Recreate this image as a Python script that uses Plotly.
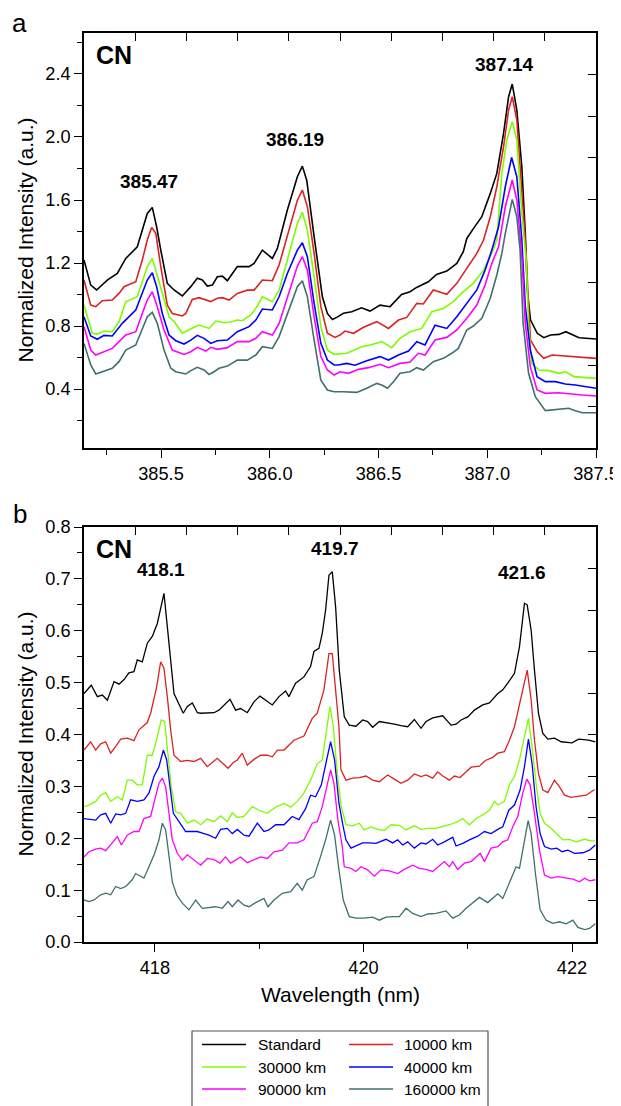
import plotly.graph_objects as go

# The page body adds an 8px margin, so the figure is sized and placed to line up with the
# 621x1106 viewport: reference pixel (X, Y) -> figure pixel (X-8, Y-8).
OFF = 8
W, H = 621 - OFF, 1106 - OFF
def px(x):
    return (x - OFF) / W
def py(y):
    return 1 - (y - OFF) / H

FONT = "Liberation Sans, Arial, Helvetica, sans-serif"

series_names = ["Standard", "10000 km", "30000 km", "40000 km", "90000 km", "160000 km"]
series_colors = ["#000000", "#dd2222", "#7cfc00", "#0000ff", "#ff00ff", "#3f6f6f"]

# ---------------- Panel a (385-387.5 nm) ----------------
std_a_x = [385.146, 385.177, 385.204, 385.253, 385.299, 385.338, 385.391, 385.437, 385.460, 385.480, 385.499, 385.529, 385.560, 385.598, 385.637, 385.667, 385.690, 385.713, 385.736, 385.759, 385.782, 385.805, 385.851, 385.905, 385.928, 385.966, 386.012, 386.035, 386.081, 386.127, 386.150, 386.170, 386.204, 386.242, 386.265, 386.288, 386.308, 386.339, 386.377, 386.422, 386.461, 386.507, 386.553, 386.606, 386.645, 386.675, 386.729, 386.767, 386.814, 386.860, 386.890, 386.906, 386.937, 386.975, 387.014, 387.044, 387.075, 387.098, 387.115, 387.136, 387.159, 387.175, 387.184, 387.199, 387.230, 387.260, 387.291, 387.330, 387.361, 387.422, 387.500]
std_a_y = [1.219, 1.060, 1.029, 1.092, 1.134, 1.229, 1.303, 1.515, 1.553, 1.430, 1.282, 1.071, 1.029, 0.991, 1.050, 1.103, 1.092, 1.054, 1.060, 1.113, 1.117, 1.088, 1.177, 1.177, 1.198, 1.282, 1.229, 1.293, 1.536, 1.748, 1.815, 1.726, 1.367, 0.986, 0.880, 0.842, 0.855, 0.881, 0.891, 0.916, 0.895, 0.933, 0.923, 1.001, 1.018, 1.045, 1.081, 1.128, 1.149, 1.198, 1.272, 1.356, 1.420, 1.494, 1.642, 1.769, 2.023, 2.255, 2.336, 2.171, 1.811, 1.388, 1.029, 0.838, 0.754, 0.726, 0.743, 0.747, 0.764, 0.726, 0.718]

k10_a_x = [385.146, 385.177, 385.200, 385.230, 385.276, 385.307, 385.330, 385.384, 385.414, 385.437, 385.457, 385.476, 385.499, 385.529, 385.552, 385.598, 385.614, 385.644, 385.675, 385.729, 385.759, 385.782, 385.813, 385.851, 385.897, 385.928, 385.966, 386.012, 386.043, 386.081, 386.127, 386.150, 386.173, 386.204, 386.235, 386.265, 386.300, 386.323, 386.346, 386.385, 386.431, 386.492, 386.546, 386.592, 386.630, 386.676, 386.706, 386.752, 386.814, 386.860, 386.906, 386.952, 386.983, 387.014, 387.044, 387.075, 387.098, 387.115, 387.136, 387.159, 387.179, 387.190, 387.199, 387.230, 387.260, 387.298, 387.344, 387.390, 387.422, 387.500]
k10_a_y = [1.092, 0.933, 0.923, 0.961, 0.965, 1.007, 1.050, 1.081, 1.219, 1.346, 1.426, 1.388, 1.177, 0.933, 0.880, 0.864, 0.880, 0.969, 0.980, 0.955, 0.976, 0.980, 0.965, 1.007, 1.028, 1.028, 1.092, 1.088, 1.187, 1.367, 1.599, 1.663, 1.557, 1.261, 0.923, 0.754, 0.728, 0.743, 0.768, 0.754, 0.792, 0.828, 0.785, 0.838, 0.855, 0.944, 0.940, 1.029, 1.001, 1.071, 1.166, 1.261, 1.346, 1.494, 1.684, 1.938, 2.171, 2.255, 2.107, 1.684, 1.261, 0.923, 0.711, 0.637, 0.595, 0.616, 0.612, 0.606, 0.601, 0.595]

k30_a_x = [385.146, 385.184, 385.207, 385.238, 385.276, 385.307, 385.338, 385.391, 385.437, 385.460, 385.480, 385.506, 385.537, 385.560, 385.598, 385.652, 385.675, 385.721, 385.752, 385.790, 385.821, 385.851, 385.874, 385.913, 385.936, 385.966, 386.012, 386.043, 386.081, 386.127, 386.150, 386.173, 386.204, 386.235, 386.265, 386.296, 386.354, 386.423, 386.461, 386.515, 386.561, 386.599, 386.645, 386.699, 386.745, 386.798, 386.844, 386.890, 386.936, 386.983, 387.021, 387.044, 387.067, 387.090, 387.115, 387.136, 387.159, 387.179, 387.190, 387.204, 387.238, 387.284, 387.330, 387.361, 387.399, 387.500]
k30_a_y = [0.933, 0.754, 0.749, 0.768, 0.764, 0.827, 0.954, 0.986, 1.176, 1.229, 1.134, 1.007, 0.859, 0.828, 0.754, 0.792, 0.806, 0.785, 0.832, 0.821, 0.826, 0.838, 0.834, 0.870, 0.912, 0.986, 0.954, 1.028, 1.219, 1.452, 1.522, 1.409, 1.113, 0.796, 0.648, 0.620, 0.627, 0.669, 0.680, 0.701, 0.663, 0.722, 0.764, 0.785, 0.891, 0.912, 0.955, 1.018, 1.071, 1.155, 1.261, 1.346, 1.769, 1.981, 2.097, 1.981, 1.515, 1.219, 0.817, 0.563, 0.521, 0.517, 0.500, 0.510, 0.479, 0.468]

k40_a_x = [385.146, 385.177, 385.207, 385.238, 385.276, 385.322, 385.384, 385.414, 385.437, 385.460, 385.480, 385.506, 385.537, 385.568, 385.606, 385.637, 385.667, 385.698, 385.729, 385.759, 385.805, 385.851, 385.905, 385.936, 385.966, 386.012, 386.043, 386.081, 386.127, 386.150, 386.173, 386.204, 386.235, 386.265, 386.296, 386.315, 386.354, 386.392, 386.446, 386.507, 386.546, 386.592, 386.638, 386.676, 386.714, 386.760, 386.814, 386.860, 386.906, 386.952, 386.990, 387.021, 387.052, 387.083, 387.112, 387.136, 387.159, 387.175, 387.198, 387.229, 387.267, 387.313, 387.359, 387.405, 387.500]
k40_a_y = [0.859, 0.737, 0.716, 0.741, 0.737, 0.817, 0.902, 1.007, 1.092, 1.138, 1.050, 0.880, 0.743, 0.707, 0.686, 0.711, 0.741, 0.722, 0.690, 0.707, 0.711, 0.764, 0.796, 0.838, 0.908, 0.902, 0.986, 1.134, 1.282, 1.329, 1.240, 0.944, 0.690, 0.584, 0.553, 0.553, 0.563, 0.551, 0.580, 0.606, 0.584, 0.616, 0.641, 0.701, 0.680, 0.806, 0.785, 0.859, 0.944, 1.029, 1.155, 1.282, 1.430, 1.684, 1.870, 1.748, 1.346, 0.923, 0.648, 0.479, 0.447, 0.447, 0.432, 0.426, 0.405]

k90_a_x = [385.146, 385.177, 385.200, 385.230, 385.276, 385.338, 385.384, 385.414, 385.437, 385.460, 385.483, 385.514, 385.552, 385.606, 385.637, 385.667, 385.706, 385.729, 385.759, 385.805, 385.851, 385.905, 385.936, 385.966, 386.012, 386.043, 386.081, 386.127, 386.150, 386.173, 386.204, 386.235, 386.265, 386.296, 386.323, 386.362, 386.408, 386.454, 386.507, 386.546, 386.599, 386.645, 386.683, 386.714, 386.760, 386.814, 386.860, 386.906, 386.952, 386.990, 387.021, 387.052, 387.083, 387.115, 387.136, 387.159, 387.175, 387.198, 387.229, 387.267, 387.328, 387.374, 387.436, 387.500]
k90_a_y = [0.796, 0.648, 0.616, 0.633, 0.658, 0.743, 0.764, 0.880, 0.965, 1.018, 0.923, 0.775, 0.648, 0.620, 0.637, 0.665, 0.641, 0.665, 0.652, 0.663, 0.701, 0.701, 0.722, 0.764, 0.743, 0.817, 0.986, 1.181, 1.240, 1.155, 0.859, 0.606, 0.521, 0.489, 0.510, 0.500, 0.525, 0.536, 0.557, 0.536, 0.563, 0.572, 0.627, 0.616, 0.711, 0.728, 0.775, 0.849, 0.933, 1.060, 1.198, 1.303, 1.557, 1.727, 1.600, 1.240, 0.817, 0.542, 0.394, 0.373, 0.377, 0.369, 0.362, 0.356]

k160_a_x = [385.146, 385.177, 385.200, 385.238, 385.276, 385.307, 385.338, 385.384, 385.414, 385.437, 385.460, 385.483, 385.514, 385.545, 385.568, 385.614, 385.637, 385.667, 385.698, 385.721, 385.744, 385.767, 385.805, 385.851, 385.897, 385.936, 385.966, 386.012, 386.043, 386.081, 386.127, 386.150, 386.173, 386.204, 386.235, 386.265, 386.296, 386.339, 386.400, 386.446, 386.492, 386.515, 386.541, 386.569, 386.599, 386.645, 386.676, 386.706, 386.752, 386.798, 386.837, 386.867, 386.906, 386.936, 386.975, 387.014, 387.044, 387.067, 387.083, 387.115, 387.136, 387.151, 387.165, 387.190, 387.221, 387.267, 387.328, 387.374, 387.405, 387.436, 387.500]
k160_a_y = [0.690, 0.553, 0.496, 0.515, 0.532, 0.574, 0.648, 0.680, 0.775, 0.859, 0.887, 0.817, 0.648, 0.532, 0.510, 0.496, 0.517, 0.538, 0.521, 0.493, 0.510, 0.532, 0.546, 0.584, 0.584, 0.616, 0.669, 0.658, 0.733, 0.881, 1.050, 1.088, 0.986, 0.711, 0.457, 0.394, 0.383, 0.383, 0.379, 0.405, 0.436, 0.426, 0.405, 0.447, 0.500, 0.510, 0.536, 0.521, 0.574, 0.595, 0.627, 0.658, 0.775, 0.800, 0.849, 0.976, 1.124, 1.261, 1.388, 1.604, 1.494, 1.282, 0.817, 0.500, 0.352, 0.263, 0.271, 0.278, 0.263, 0.250, 0.250]

# ---------------- Panel b (417-422 nm) ----------------
std_b_x = [417.320, 417.390, 417.448, 417.496, 417.544, 417.608, 417.656, 417.704, 417.751, 417.799, 417.831, 417.879, 417.927, 417.975, 418.023, 418.055, 418.087, 418.119, 418.151, 418.183, 418.272, 418.311, 418.359, 418.407, 418.439, 418.502, 418.566, 418.614, 418.662, 418.720, 418.774, 418.822, 418.886, 418.950, 419.007, 419.062, 419.126, 419.190, 419.253, 419.285, 419.349, 419.429, 419.493, 419.525, 419.573, 419.605, 419.637, 419.669, 419.701, 419.733, 419.768, 419.816, 419.864, 419.928, 419.992, 420.040, 420.088, 420.152, 420.216, 420.296, 420.360, 420.424, 420.488, 420.552, 420.600, 420.664, 420.760, 420.840, 420.888, 420.936, 421.000, 421.064, 421.144, 421.208, 421.288, 421.336, 421.384, 421.448, 421.496, 421.544, 421.570, 421.608, 421.640, 421.678, 421.720, 421.768, 421.832, 421.896, 422.000, 422.063, 422.159, 422.223]
std_b_y = [0.479, 0.495, 0.473, 0.476, 0.466, 0.502, 0.497, 0.506, 0.519, 0.521, 0.544, 0.540, 0.576, 0.589, 0.614, 0.640, 0.672, 0.608, 0.544, 0.479, 0.441, 0.454, 0.461, 0.442, 0.441, 0.442, 0.442, 0.447, 0.457, 0.468, 0.447, 0.450, 0.442, 0.463, 0.474, 0.466, 0.457, 0.473, 0.484, 0.473, 0.499, 0.511, 0.531, 0.560, 0.566, 0.595, 0.640, 0.707, 0.714, 0.646, 0.524, 0.434, 0.418, 0.416, 0.428, 0.425, 0.414, 0.425, 0.423, 0.420, 0.417, 0.415, 0.429, 0.412, 0.425, 0.432, 0.436, 0.418, 0.420, 0.428, 0.434, 0.447, 0.457, 0.461, 0.479, 0.486, 0.499, 0.518, 0.569, 0.653, 0.650, 0.601, 0.524, 0.441, 0.402, 0.391, 0.393, 0.386, 0.384, 0.391, 0.389, 0.386]

k10_b_x = [417.320, 417.384, 417.432, 417.480, 417.528, 417.576, 417.624, 417.672, 417.735, 417.799, 417.847, 417.927, 417.959, 418.017, 418.055, 418.087, 418.119, 418.151, 418.183, 418.247, 418.311, 418.375, 418.439, 418.502, 418.598, 418.701, 418.752, 418.790, 418.838, 418.886, 418.950, 419.014, 419.078, 419.126, 419.174, 419.238, 419.333, 419.429, 419.509, 419.557, 419.621, 419.669, 419.701, 419.733, 419.765, 419.784, 419.832, 419.896, 419.960, 420.024, 420.088, 420.152, 420.232, 420.296, 420.360, 420.424, 420.488, 420.552, 420.600, 420.664, 420.712, 420.760, 420.824, 420.872, 420.926, 420.968, 421.032, 421.112, 421.169, 421.240, 421.288, 421.352, 421.400, 421.448, 421.496, 421.544, 421.570, 421.608, 421.640, 421.678, 421.720, 421.768, 421.832, 421.880, 421.928, 421.992, 422.056, 422.136, 422.216]
k10_b_y = [0.370, 0.386, 0.370, 0.382, 0.386, 0.364, 0.377, 0.391, 0.393, 0.388, 0.409, 0.423, 0.441, 0.492, 0.540, 0.528, 0.473, 0.409, 0.360, 0.348, 0.350, 0.348, 0.354, 0.338, 0.354, 0.335, 0.346, 0.351, 0.364, 0.341, 0.352, 0.360, 0.360, 0.357, 0.370, 0.370, 0.389, 0.397, 0.431, 0.441, 0.486, 0.556, 0.556, 0.492, 0.415, 0.332, 0.312, 0.316, 0.317, 0.320, 0.312, 0.309, 0.322, 0.314, 0.306, 0.312, 0.324, 0.319, 0.322, 0.316, 0.328, 0.320, 0.312, 0.320, 0.317, 0.325, 0.337, 0.339, 0.350, 0.356, 0.364, 0.367, 0.389, 0.415, 0.460, 0.505, 0.524, 0.467, 0.389, 0.325, 0.293, 0.288, 0.312, 0.299, 0.283, 0.279, 0.281, 0.283, 0.294]

k30_b_x = [417.320, 417.368, 417.432, 417.480, 417.528, 417.576, 417.640, 417.688, 417.735, 417.783, 417.831, 417.879, 417.927, 417.975, 418.023, 418.061, 418.093, 418.125, 418.157, 418.199, 418.247, 418.311, 418.375, 418.439, 418.502, 418.566, 418.630, 418.694, 418.742, 418.790, 418.854, 418.934, 418.998, 419.078, 419.158, 419.238, 419.302, 419.365, 419.429, 419.509, 419.557, 419.605, 419.647, 419.679, 419.711, 419.749, 419.787, 419.832, 419.896, 419.960, 420.008, 420.072, 420.136, 420.200, 420.264, 420.344, 420.408, 420.488, 420.552, 420.616, 420.696, 420.760, 420.840, 420.904, 420.952, 421.016, 421.080, 421.144, 421.208, 421.256, 421.288, 421.352, 421.400, 421.448, 421.496, 421.544, 421.582, 421.617, 421.655, 421.694, 421.736, 421.784, 421.848, 421.912, 421.976, 422.040, 422.120, 422.184, 422.223]
k30_b_y = [0.261, 0.264, 0.271, 0.283, 0.288, 0.271, 0.280, 0.274, 0.312, 0.312, 0.303, 0.303, 0.360, 0.360, 0.396, 0.428, 0.425, 0.364, 0.299, 0.251, 0.248, 0.229, 0.235, 0.226, 0.237, 0.232, 0.243, 0.232, 0.249, 0.240, 0.242, 0.261, 0.254, 0.248, 0.260, 0.267, 0.260, 0.271, 0.287, 0.319, 0.344, 0.351, 0.415, 0.454, 0.415, 0.325, 0.261, 0.226, 0.224, 0.229, 0.216, 0.222, 0.217, 0.215, 0.226, 0.225, 0.216, 0.224, 0.217, 0.219, 0.219, 0.222, 0.227, 0.232, 0.238, 0.226, 0.238, 0.245, 0.254, 0.271, 0.264, 0.271, 0.303, 0.319, 0.351, 0.396, 0.431, 0.377, 0.306, 0.248, 0.229, 0.222, 0.209, 0.197, 0.198, 0.193, 0.198, 0.195, 0.195]

k40_b_x = [417.320, 417.384, 417.432, 417.480, 417.528, 417.576, 417.624, 417.672, 417.720, 417.767, 417.831, 417.895, 417.943, 417.991, 418.039, 418.081, 418.113, 418.145, 418.177, 418.231, 418.295, 418.343, 418.407, 418.471, 418.518, 418.582, 418.630, 418.694, 418.742, 418.790, 418.854, 418.902, 418.982, 419.046, 419.094, 419.158, 419.238, 419.317, 419.381, 419.445, 419.493, 419.541, 419.596, 419.647, 419.685, 419.723, 419.765, 419.806, 419.832, 419.880, 419.944, 419.992, 420.056, 420.120, 420.216, 420.280, 420.328, 420.376, 420.424, 420.488, 420.552, 420.600, 420.664, 420.712, 420.776, 420.856, 420.888, 420.952, 421.016, 421.096, 421.160, 421.224, 421.288, 421.336, 421.394, 421.448, 421.502, 421.544, 421.582, 421.617, 421.655, 421.694, 421.736, 421.800, 421.854, 421.905, 421.960, 422.024, 422.104, 422.168, 422.223]
k40_b_y = [0.238, 0.236, 0.235, 0.245, 0.248, 0.229, 0.247, 0.245, 0.248, 0.274, 0.271, 0.274, 0.287, 0.319, 0.338, 0.370, 0.351, 0.299, 0.248, 0.232, 0.213, 0.213, 0.213, 0.209, 0.206, 0.200, 0.217, 0.219, 0.209, 0.217, 0.206, 0.204, 0.229, 0.213, 0.216, 0.226, 0.226, 0.242, 0.236, 0.257, 0.283, 0.280, 0.303, 0.351, 0.386, 0.351, 0.267, 0.222, 0.197, 0.181, 0.187, 0.191, 0.191, 0.190, 0.198, 0.191, 0.197, 0.187, 0.193, 0.181, 0.191, 0.189, 0.198, 0.187, 0.193, 0.202, 0.185, 0.190, 0.197, 0.204, 0.213, 0.209, 0.217, 0.222, 0.254, 0.264, 0.293, 0.338, 0.391, 0.344, 0.261, 0.209, 0.184, 0.179, 0.181, 0.174, 0.177, 0.171, 0.172, 0.177, 0.187]

k90_b_x = [417.320, 417.368, 417.432, 417.480, 417.528, 417.576, 417.640, 417.678, 417.735, 417.799, 417.847, 417.895, 417.959, 417.998, 418.039, 418.071, 418.103, 418.135, 418.167, 418.215, 418.263, 418.311, 418.375, 418.439, 418.502, 418.566, 418.624, 418.678, 418.726, 418.774, 418.822, 418.886, 418.950, 419.014, 419.078, 419.142, 419.222, 419.286, 419.365, 419.429, 419.509, 419.557, 419.605, 419.647, 419.685, 419.717, 419.755, 419.797, 419.816, 419.880, 419.928, 419.976, 420.040, 420.104, 420.168, 420.248, 420.328, 420.392, 420.472, 420.536, 420.600, 420.664, 420.728, 420.776, 420.824, 420.856, 420.904, 420.968, 421.032, 421.080, 421.119, 421.160, 421.224, 421.288, 421.336, 421.384, 421.432, 421.480, 421.528, 421.566, 421.598, 421.640, 421.688, 421.736, 421.800, 421.864, 421.944, 422.008, 422.072, 422.120, 422.168, 422.223]
k90_b_y = [0.164, 0.174, 0.179, 0.181, 0.176, 0.187, 0.203, 0.187, 0.206, 0.213, 0.213, 0.238, 0.242, 0.274, 0.306, 0.316, 0.299, 0.248, 0.197, 0.171, 0.158, 0.168, 0.158, 0.148, 0.161, 0.159, 0.152, 0.164, 0.152, 0.158, 0.164, 0.153, 0.159, 0.164, 0.161, 0.174, 0.177, 0.191, 0.191, 0.197, 0.229, 0.232, 0.261, 0.299, 0.332, 0.306, 0.235, 0.184, 0.145, 0.142, 0.136, 0.145, 0.139, 0.127, 0.139, 0.137, 0.132, 0.140, 0.148, 0.142, 0.140, 0.136, 0.148, 0.155, 0.145, 0.155, 0.140, 0.152, 0.155, 0.164, 0.171, 0.155, 0.181, 0.184, 0.193, 0.197, 0.222, 0.242, 0.287, 0.314, 0.303, 0.248, 0.177, 0.129, 0.123, 0.126, 0.123, 0.121, 0.116, 0.123, 0.118, 0.120]

k160_b_x = [417.320, 417.368, 417.416, 417.480, 417.528, 417.576, 417.624, 417.672, 417.720, 417.783, 417.815, 417.847, 417.895, 417.943, 417.998, 418.039, 418.071, 418.103, 418.135, 418.167, 418.208, 418.263, 418.327, 418.391, 418.454, 418.518, 418.582, 418.646, 418.701, 418.742, 418.797, 418.854, 418.902, 418.966, 419.046, 419.084, 419.142, 419.222, 419.302, 419.365, 419.413, 419.461, 419.525, 419.589, 419.637, 419.685, 419.723, 419.765, 419.806, 419.864, 419.928, 420.008, 420.088, 420.152, 420.216, 420.280, 420.344, 420.408, 420.472, 420.552, 420.616, 420.696, 420.792, 420.856, 420.920, 420.984, 421.048, 421.112, 421.192, 421.288, 421.336, 421.400, 421.464, 421.496, 421.544, 421.579, 421.608, 421.649, 421.694, 421.752, 421.816, 421.880, 421.944, 422.008, 422.056, 422.120, 422.168, 422.223]
k160_b_y = [0.081, 0.078, 0.081, 0.091, 0.094, 0.091, 0.107, 0.103, 0.107, 0.120, 0.132, 0.129, 0.123, 0.145, 0.171, 0.197, 0.229, 0.216, 0.171, 0.116, 0.091, 0.075, 0.062, 0.081, 0.065, 0.067, 0.068, 0.065, 0.078, 0.068, 0.081, 0.071, 0.068, 0.076, 0.084, 0.068, 0.081, 0.094, 0.097, 0.113, 0.100, 0.120, 0.126, 0.165, 0.197, 0.235, 0.206, 0.139, 0.081, 0.049, 0.046, 0.046, 0.048, 0.042, 0.048, 0.049, 0.049, 0.065, 0.055, 0.049, 0.054, 0.055, 0.060, 0.046, 0.052, 0.065, 0.075, 0.086, 0.076, 0.093, 0.084, 0.116, 0.145, 0.142, 0.197, 0.234, 0.209, 0.132, 0.062, 0.042, 0.036, 0.039, 0.035, 0.042, 0.028, 0.024, 0.026, 0.035]

# peak labels
peaks_a_text = ["385.47", "386.19", "387.14"]
peaks_b_text = ["418.1", "419.7", "421.6"]

panel_a = [(std_a_x, std_a_y), (k10_a_x, k10_a_y), (k30_a_x, k30_a_y),
           (k40_a_x, k40_a_y), (k90_a_x, k90_a_y), (k160_a_x, k160_a_y)]
panel_b = [(std_b_x, std_b_y), (k10_b_x, k10_b_y), (k30_b_x, k30_b_y),
           (k40_b_x, k40_b_y), (k90_b_x, k90_b_y), (k160_b_x, k160_b_y)]

fig = go.Figure()
for name, color, (xs, ys) in zip(series_names, series_colors, panel_a):
    fig.add_trace(go.Scatter(x=xs, y=ys, mode="lines", name=name, showlegend=False,
                             line=dict(color=color, width=1.6), xaxis="x", yaxis="y"))
for name, color, (xs, ys) in zip(series_names, series_colors, panel_b):
    fig.add_trace(go.Scatter(x=xs, y=ys, mode="lines", name=name, showlegend=False,
                             line=dict(color=color, width=1.3), xaxis="x2", yaxis="y2"))

# dummy traces so the mirror (tick-only) axes get drawn
for xa, ya in [("x3", "y"), ("x", "y3"), ("x4", "y2"), ("x2", "y4")]:
    fig.add_trace(go.Scatter(x=[None], y=[None], mode="lines", showlegend=False,
                             hoverinfo="skip", xaxis=xa, yaxis=ya))

XDOM = [px(84), px(596)]
YDOM_A = [py(448), py(33)]
YDOM_B = [py(942), py(527)]
tickfont = dict(family=FONT, size=18.2, color="black")

def main_axis(**kw):
    base = dict(showline=True, linecolor="black", linewidth=1.5, mirror=True,
                ticks="outside", ticklen=8, tickwidth=1.3, tickcolor="black",
                showgrid=False, zeroline=False, tickfont=tickfont, tickmode="linear")
    base.update(kw)
    return base

def mirror_axis(**kw):
    base = dict(range=[0, 10], tickmode="linear", tick0=0, dtick=1, ticks="inside",
                ticklen=8, tickwidth=1.3, tickcolor="black", showticklabels=False,
                showline=False, showgrid=False, zeroline=False, fixedrange=True)
    base.update(kw)
    return base

minor_kw = dict(ticks="outside", ticklen=5, tickwidth=1.3, tickcolor="black", showgrid=False)

fig.update_layout(
    width=W, height=H,
    margin=dict(l=0, r=0, t=0, b=0, autoexpand=False),
    paper_bgcolor="white", plot_bgcolor="white",
    font=dict(family=FONT, color="black"),
    xaxis=main_axis(domain=XDOM, anchor="y", range=[385.146, 387.5], tick0=385.5, dtick=0.5,
                    tickformat=".1f", minor=dict(dtick=0.25, tick0=385.25, **minor_kw)),
    yaxis=main_axis(domain=YDOM_A, anchor="x", range=[0.026, 2.66], tick0=0.4, dtick=0.4,
                    tickformat=".1f", minor=dict(dtick=0.2, tick0=0.2, **minor_kw)),
    xaxis2=main_axis(domain=XDOM, anchor="y2", range=[417.32, 422.23], tick0=418, dtick=2,
                     tickformat="d", minor=dict(dtick=1, tick0=417, **minor_kw)),
    yaxis2=main_axis(domain=YDOM_B, anchor="x2", range=[0, 0.8], tick0=0, dtick=0.1,
                     tickformat=".1f", minor=dict(dtick=0.05, tick0=0.05, **minor_kw)),
    xaxis3=mirror_axis(overlaying="x", anchor="y", side="top"),
    yaxis3=mirror_axis(overlaying="y", anchor="x", side="right"),
    xaxis4=mirror_axis(overlaying="x2", anchor="y2", side="top"),
    yaxis4=mirror_axis(overlaying="y2", anchor="x2", side="right"),
)

ann = []
def add_text(text, x, y, size, bold=False, xanchor="center", yanchor="middle", angle=0):
    ann.append(dict(text=("<b>%s</b>" % text) if bold else text, x=px(x), y=py(y),
                    xref="paper", yref="paper", showarrow=False, xanchor=xanchor,
                    yanchor=yanchor, textangle=angle,
                    font=dict(family=FONT, size=size, color="black")))

add_text("a", 20, 23.5, 26)
add_text("b", 20, 514.3, 26)
add_text("CN", 114, 55, 25, bold=True)
add_text("CN", 114, 548.5, 25, bold=True)
for t, (x, y) in zip(peaks_a_text, [(149, 181.4), (295, 139.4), (504, 64.1)]):
    add_text(t, x, y, 19, bold=True)
for t, (x, y) in zip(peaks_b_text, [(161, 569.4), (335, 548.4), (522, 572.4)]):
    add_text(t, x, y, 19, bold=True)
add_text("Normalized Intensity (a.u.)", 25, 240.5, 21, angle=-90)
add_text("Normalized Intensity (a.u.)", 25, 734.5, 21, angle=-90)
add_text("Wavelength (nm)", 340, 994, 21)

# legend (drawn as a boxed key below the chart)
shapes = [dict(type="rect", xref="paper", yref="paper", x0=px(192), x1=px(488),
               y0=py(1112), y1=py(1031), line=dict(color="#555555", width=1.2),
               fillcolor="rgba(0,0,0,0)")]
rows_y = [1044.5, 1067, 1089]
cols = [(202, 246, 256), (349, 393, 402)]
for i, (name, color) in enumerate(zip(series_names, series_colors)):
    r, c = divmod(i, 2)
    x0, x1, xt = cols[c]
    yy = rows_y[r]
    shapes.append(dict(type="line", xref="paper", yref="paper", x0=px(x0), x1=px(x1),
                       y0=py(yy), y1=py(yy), line=dict(color=color, width=1.5)))
    add_text(name, xt, yy, 15.5, xanchor="left")

fig.update_layout(annotations=ann, shapes=shapes)
fig.write_html("out.html")
